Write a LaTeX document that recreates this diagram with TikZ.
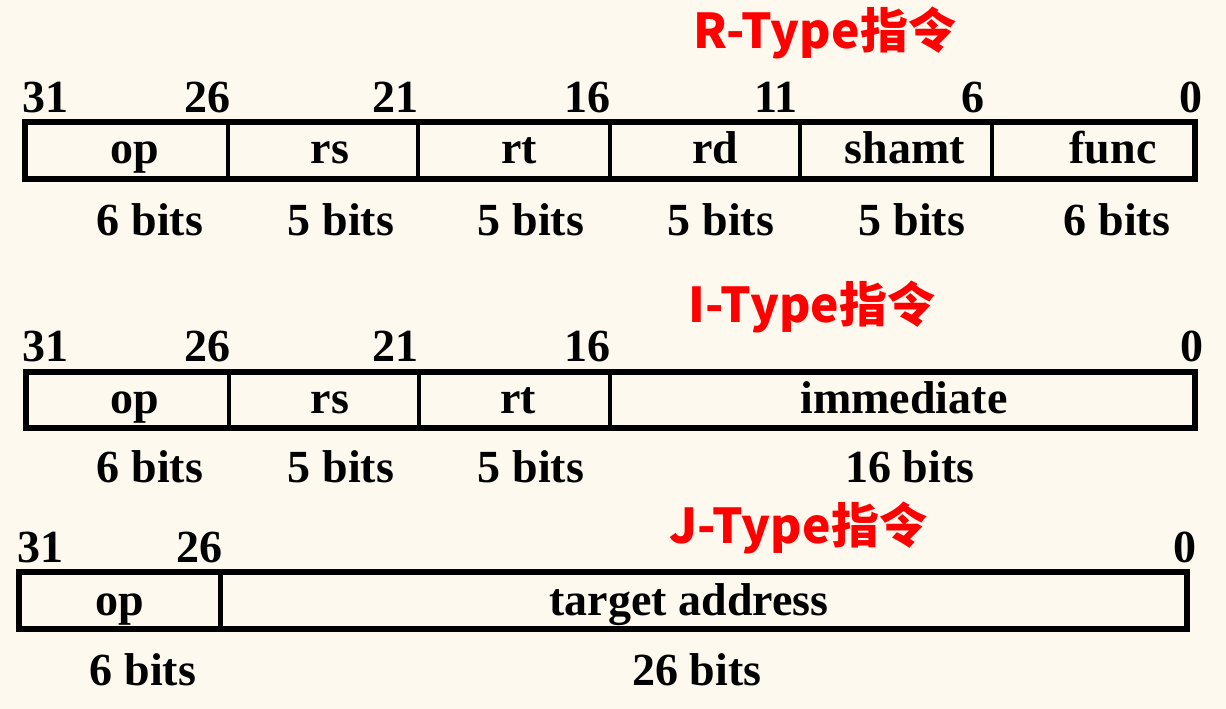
\documentclass[tikz,border=0pt]{standalone}
\usepackage{fontspec}
\setmainfont{Liberation Serif}
\newfontfamily\cjk{Noto Sans CJK SC}
\usepackage{tikz}
\usepackage{xcolor}
\definecolor{paper}{HTML}{FEF9EE}
\definecolor{titlered}{HTML}{FF0000}

\tikzset{
  frame/.style={line width=6pt},
  sep/.style={line width=4.5pt},
  bitno/.style={inner sep=0pt, font=\fontsize{46}{50}\selectfont\bfseries},
  field/.style={inner sep=0pt, anchor=base, font=\fontsize{46}{50}\selectfont\bfseries},
  width/.style={inner sep=0pt, anchor=base, font=\fontsize{46}{50}\selectfont\bfseries},
  title/.style={inner sep=0pt, text=titlered, font=\fontsize{48}{52}\selectfont\cjk\bfseries}
}

\begin{document}
\begin{tikzpicture}[x=1pt, y=-1pt, line width=0.8pt]
\fill[paper] (0,0) rectangle (1226,709);
\useasboundingbox (0,0) rectangle (1226,709);

% R-Type
\node[title] (rtitle) at (825,33) {R-Type指令};
\node[bitno, anchor=base west] (r31) at (22,112) {31};
\node[bitno, anchor=base east] (r26) at (231,112) {26};
\node[bitno, anchor=base east] (r21) at (419,112) {21};
\node[bitno, anchor=base east] (r16) at (611,112) {16};
\node[bitno, anchor=base east] (r11) at (798,112) {11};
\node[bitno, anchor=base east] (r6) at (985,112) {6};
\node[bitno, anchor=base east] (r0) at (1203,112) {0};
\draw[frame] (25,121.5) rectangle (1195,178.5);
\foreach \x in {228,418,610,800,992}
  \draw[sep] (\x,121.5) -- (\x,178.5);
\node[field] (rop) at (135,163) {op};
\node[field] (rrs) at (330,163) {rs};
\node[field] (rrt) at (519,163) {rt};
\node[field] (rrd) at (715,163) {rd};
\node[field] (rshamt) at (905,163) {shamt};
\node[field] (rfunc) at (1113,163) {func};
\node[width] (rw1) at (150,235) {6 bits};
\node[width] (rw2) at (341,235) {5 bits};
\node[width] (rw3) at (531,235) {5 bits};
\node[width] (rw4) at (721,235) {5 bits};
\node[width] (rw5) at (912,235) {5 bits};
\node[width] (rw6) at (1117,235) {6 bits};

% I-Type
\node[title] (ititle) at (812,307) {I-Type指令};
\node[bitno, anchor=base west] (i31) at (22,361) {31};
\node[bitno, anchor=base east] (i26) at (231,361) {26};
\node[bitno, anchor=base east] (i21) at (419,361) {21};
\node[bitno, anchor=base east] (i16) at (611,361) {16};
\node[bitno, anchor=base east] (i0) at (1204,361) {0};
\draw[frame] (26,371.5) rectangle (1195,428);
\foreach \x in {229,419,610}
  \draw[sep] (\x,371.5) -- (\x,428);
\node[field] (iop) at (135,413) {op};
\node[field] (irs) at (330,413) {rs};
\node[field] (irt) at (518,413) {rt};
\node[field] (iimm) at (904,413) {immediate};
\node[width] (iw1) at (150,482) {6 bits};
\node[width] (iw2) at (341,482) {5 bits};
\node[width] (iw3) at (531,482) {5 bits};
\node[width] (iw4) at (910,482) {16 bits};

% J-Type
\node[title] (jtitle) at (798,528) {J-Type指令};
\node[bitno, anchor=base west] (j31) at (17,562) {31};
\node[bitno, anchor=base east] (j26) at (223,562) {26};
\node[bitno, anchor=base east] (j0) at (1197,562) {0};
\draw[frame] (18.5,572) rectangle (1187,629);
\draw[sep] (220.5,572) -- (220.5,629);
\node[field] (jop) at (120,615) {op};
\node[field] (jaddr) at (689,615) {target address};
\node[width] (jw1) at (143,685) {6 bits};
\node[width] (jw2) at (697,685) {26 bits};
\end{tikzpicture}
\end{document}
